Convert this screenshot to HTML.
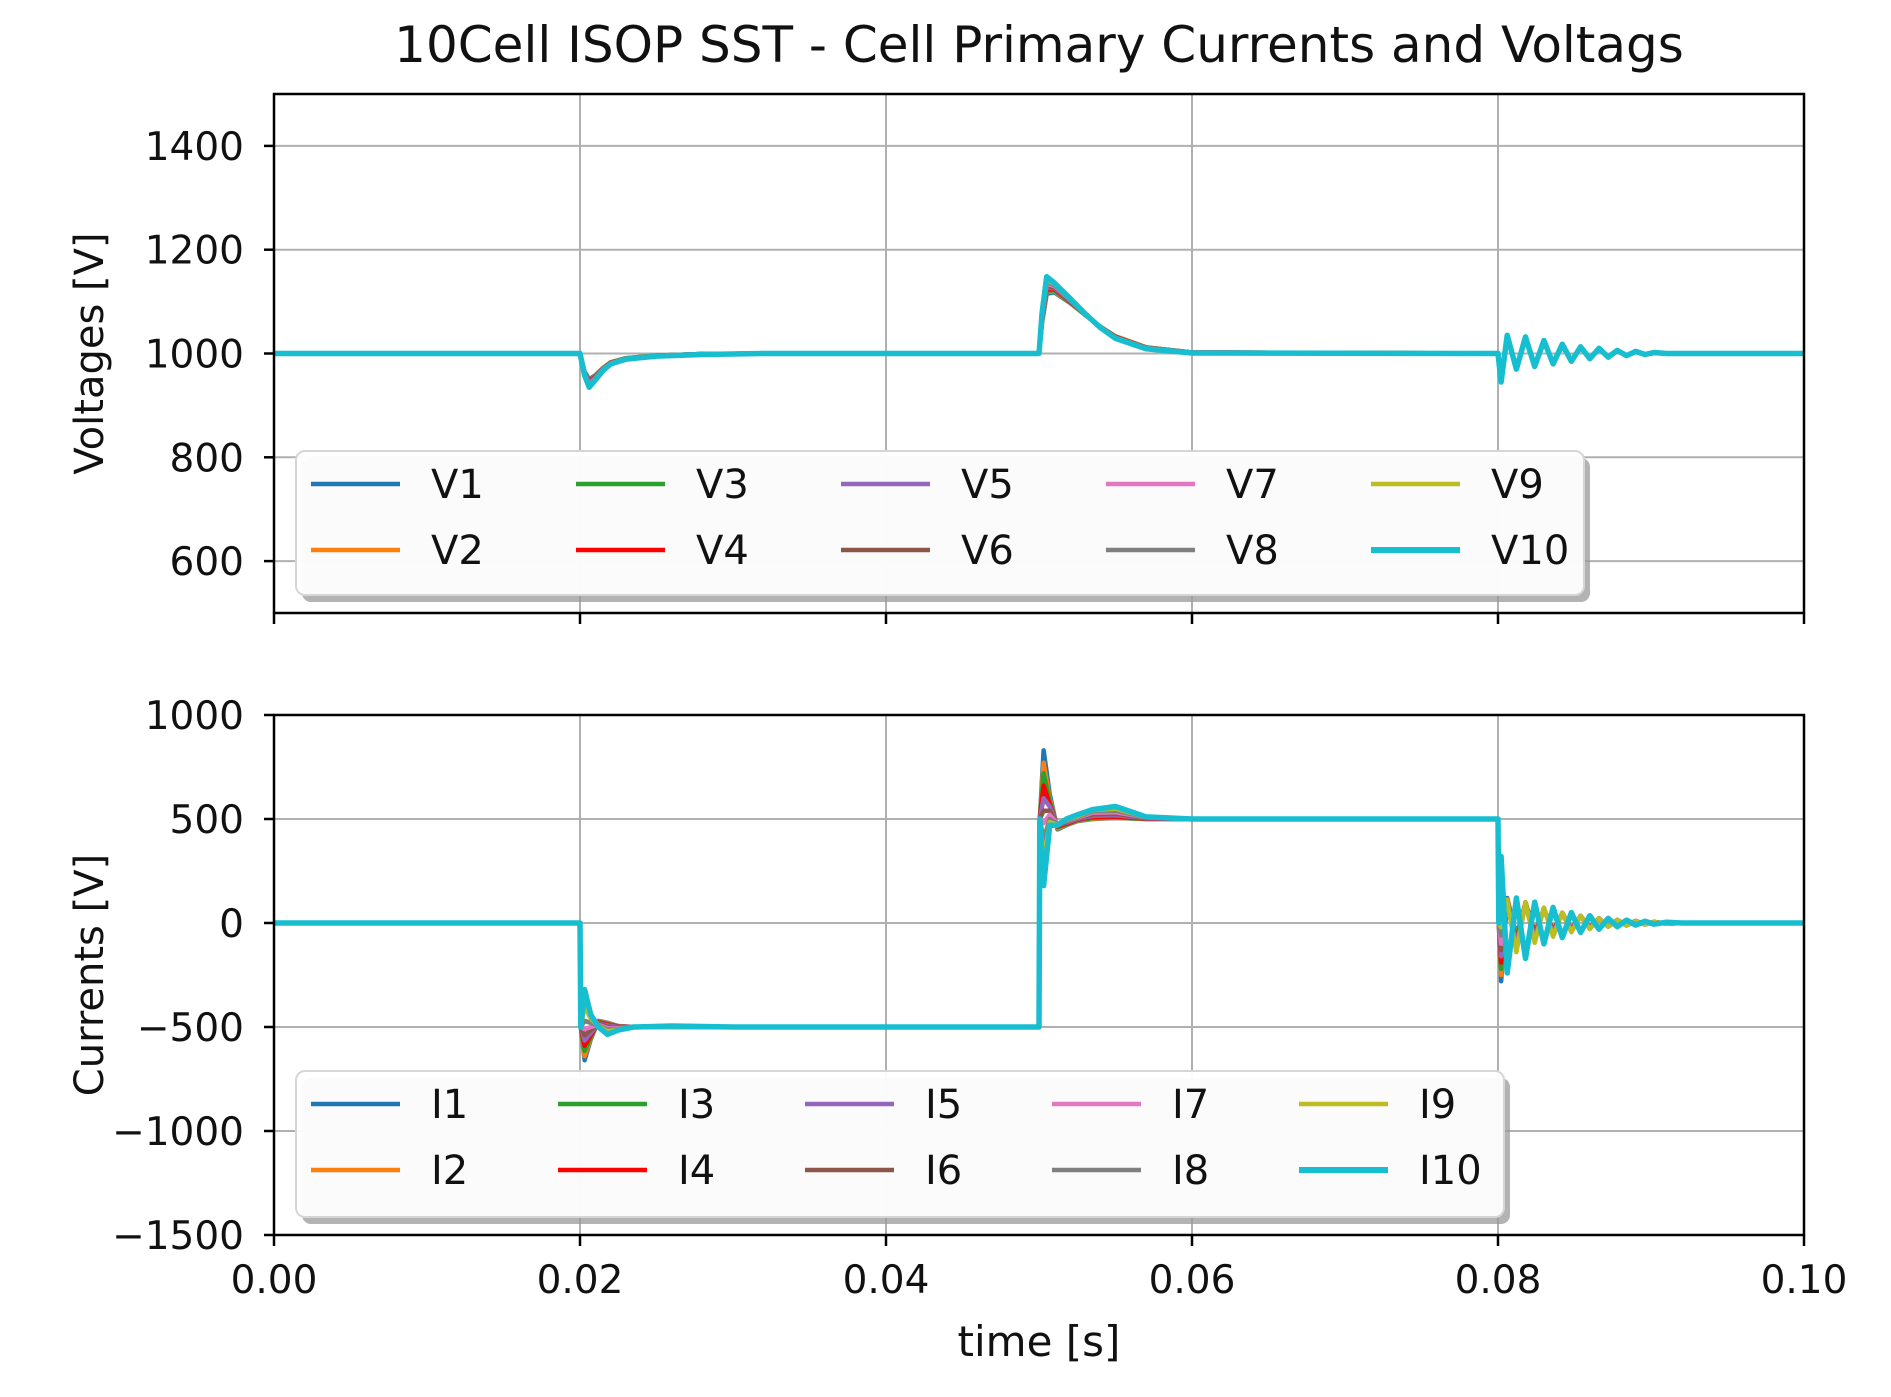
<!DOCTYPE html>
<html><head><meta charset="utf-8">
<style>
html,body{margin:0;padding:0;background:#fff;}
svg{display:block;font-family:"DejaVu Sans","Liberation Sans",sans-serif;}
</style></head>
<body>
<svg id="fig" width="1891" height="1397" viewBox="0 0 1891 1397" xmlns="http://www.w3.org/2000/svg">
<rect width="1891" height="1397" fill="#fff"/>
<text x="1039" y="62" font-size="50" text-anchor="middle" fill="#111">10Cell ISOP SST - Cell Primary Currents and Voltags</text>
<g id="top"></g>
<g id="bot"></g>
<text x="1039" y="1356" font-size="42" text-anchor="middle" fill="#111">time [s]</text>
</svg>
<script>
const colors = ['#1f77b4','#ff7f0e','#2ca02c','#ff0000','#9467bd','#8c564b','#e377c2','#7f7f7f','#bcbd22','#17becf'];
const xTicks = [0, 0.02, 0.04, 0.06, 0.08, 0.10];
const xTickLabels = ['0.00','0.02','0.04','0.06','0.08','0.10'];
const vTicks = [600, 800, 1000, 1200, 1400];
const iTicks = [-1500, -1000, -500, 0, 500, 1000];
const iTickLabels = ['\u22121500','\u22121000','\u2212500','0','500','1000'];

const vTime = [0,0.0199,0.0200,0.0203,0.0206,0.0210,0.0215,0.0220,0.0230,0.0250,0.0280,0.0320,0.0499,0.0500,0.0502,0.0505,0.0510,0.0520,0.0530,0.0540,0.0550,0.0570,0.0600,0.0799,0.0800,0.0802,0.0806,0.0812,0.0818,0.0824,0.0830,0.0836,0.0842,0.0848,0.0854,0.0860,0.0866,0.0872,0.0878,0.0884,0.0890,0.0896,0.0902,0.0910,0.1000];
const V1  = [1000,1000,1000,965,950,958,972,983,991,996,999,1000,1000,1000,1060,1115,1118,1098,1075,1052,1033,1012,1002,1000,1000,955,1030,972,1028,977,1022,982,1016,986,1012,991,1009,994,1005,996,1003,998,1001,1000,1000];
const V2  = [1000,1000,1000,964,948,957,972,983,991,996,999,1000,1000,1000,1062,1118,1120,1099,1075,1052,1033,1012,1002,1000,1000,954,1031,972,1029,977,1022,982,1016,986,1012,991,1009,994,1005,996,1003,998,1001,1000,1000];
const V3  = [1000,1000,1000,963,947,956,971,982,991,996,999,1000,1000,1000,1064,1121,1122,1100,1075,1051,1032,1011,1002,1000,1000,953,1031,971,1029,976,1023,981,1016,986,1012,991,1009,994,1005,996,1003,998,1001,1000,1000];
const V4  = [1000,1000,1000,962,945,955,970,982,990,996,999,1000,1000,1000,1066,1124,1124,1101,1076,1051,1032,1011,1002,1000,1000,952,1032,971,1030,976,1023,981,1017,985,1012,990,1009,994,1005,996,1003,998,1001,1000,1000];
const V5  = [1000,1000,1000,962,944,954,970,981,990,995,999,1000,1000,1000,1068,1127,1126,1102,1076,1051,1031,1011,1002,1000,1000,951,1032,971,1030,976,1023,981,1017,985,1012,990,1009,994,1005,996,1003,998,1001,1000,1000];
const V6  = [1000,1000,1000,961,942,953,969,981,990,995,999,1000,1000,1000,1070,1130,1128,1103,1076,1051,1031,1011,1002,1000,1000,950,1033,970,1031,975,1024,980,1017,985,1013,990,1010,993,1006,996,1004,998,1002,1000,1000];
const V7  = [1000,1000,1000,960,941,952,969,981,990,995,998,1000,1000,1000,1072,1134,1130,1104,1076,1050,1030,1010,1001,1000,1000,949,1033,970,1031,975,1024,980,1017,985,1013,990,1010,993,1006,996,1004,998,1002,1000,1000];
const V8  = [1000,1000,1000,960,939,951,968,980,990,995,998,1000,1000,1000,1074,1138,1132,1105,1076,1050,1030,1010,1001,1000,1000,948,1034,970,1031,975,1024,980,1018,985,1013,990,1010,993,1006,996,1004,998,1002,1000,1000];
const V9  = [1000,1000,1000,959,937,950,968,980,990,995,998,1000,1000,1000,1076,1142,1134,1106,1076,1050,1030,1010,1001,1000,1000,947,1034,970,1032,975,1025,980,1018,985,1013,990,1010,993,1006,996,1004,998,1002,1000,1000];
const V10 = [1000,1000,1000,958,935,949,967,980,989,995,998,1000,1000,1000,1078,1148,1136,1107,1077,1050,1029,1009,1001,1000,1000,945,1035,970,1032,975,1025,980,1018,985,1013,990,1010,993,1006,996,1004,998,1002,1000,1000];

const iTime = [0,0.0199,0.0200,0.02005,0.0203,0.0207,0.0212,0.0218,0.0225,0.0235,0.0260,0.0300,0.0499,0.0500,0.05005,0.0503,0.0507,0.0512,0.0518,0.0525,0.0535,0.0550,0.0570,0.0600,0.0799,0.0800,0.08005,0.0802,0.0806,0.0812,0.0818,0.0824,0.0830,0.0836,0.0842,0.0848,0.0854,0.0860,0.0866,0.0872,0.0878,0.0884,0.0890,0.0896,0.0902,0.0910,0.0920,0.1000];
const I1  = [0,0,0,-500,-660,-560,-470,-480,-495,-500,-500,-500,-500,-500,500,830,620,450,470,490,500,505,500,500,500,500,0,-280,120,-60,90,-40,60,-30,40,-25,30,-20,20,-15,15,-10,10,-6,6,-3,0,0];
const I2  = [0,0,0,-500,-640,-555,-472,-482,-496,-500,-500,-500,-500,-500,500,770,600,455,472,492,502,506,500,500,500,500,0,-250,115,-70,95,-45,62,-32,42,-26,30,-20,20,-15,14,-10,9,-6,5,-3,0,0];
const I3  = [0,0,0,-500,-615,-550,-475,-485,-497,-500,-500,-500,-500,-500,500,720,585,460,474,494,505,508,500,500,500,500,0,-220,110,-80,98,-50,64,-35,44,-28,31,-21,21,-15,14,-10,9,-6,5,-3,0,0];
const I4  = [0,0,0,-500,-590,-540,-478,-488,-498,-500,-500,-500,-500,-500,500,660,570,465,478,497,510,512,502,500,500,500,0,-190,110,-95,100,-58,66,-40,46,-30,32,-22,22,-16,14,-10,9,-6,5,-3,0,0];
const I5  = [0,0,0,-500,-565,-530,-482,-492,-500,-500,-500,-500,-500,-500,500,600,560,470,482,500,515,518,504,500,500,500,0,-160,105,-100,95,-66,68,-45,48,-33,34,-24,23,-17,15,-11,9,-7,5,-3,0,0];
const I6  = [0,0,0,-500,-540,-515,-486,-498,-503,-500,-500,-500,-500,-500,500,540,540,475,486,503,522,525,506,500,500,500,0,-130,100,-110,95,-74,70,-50,49,-36,35,-26,23,-17,15,-11,9,-7,5,-3,0,0];
const I7  = [0,0,0,-500,-510,-500,-490,-505,-506,-501,-500,-500,-500,-500,500,480,520,478,490,506,530,532,508,500,500,500,0,-100,95,-120,95,-82,72,-56,50,-39,35,-27,23,-18,15,-12,9,-7,5,-4,0,0];
const I8  = [0,0,0,-500,-470,-480,-494,-512,-509,-501,-500,-500,-500,-500,500,400,500,475,492,509,537,540,509,500,500,500,0,-60,100,-130,95,-88,73,-62,50,-42,35,-28,22,-18,14,-12,8,-7,5,-4,0,0];
const I9  = [0,0,0,-500,-400,-460,-497,-520,-512,-501,-500,-500,-500,-500,500,300,485,472,495,513,542,550,509,500,500,500,0,-20,110,-140,100,-95,74,-66,50,-44,35,-29,22,-18,14,-11,8,-7,5,-4,0,0];
const I10 = [0,0,0,-500,-320,-440,-500,-535,-515,-500,-495,-500,-500,-500,500,180,470,470,500,520,545,560,510,500,500,500,0,320,-240,120,-170,100,-100,75,-70,50,-45,35,-30,22,-18,14,-10,8,-6,4,0,0];

const vSeries = [V1,V2,V3,V4,V5,V6,V7,V8,V9,V10];
const iSeries = [I1,I2,I3,I4,I5,I6,I7,I8,I9,I10];
const vNames = ['V1','V2','V3','V4','V5','V6','V7','V8','V9','V10'];
const iNames = ['I1','I2','I3','I4','I5','I6','I7','I8','I9','I10'];

const NS = 'http://www.w3.org/2000/svg';
function mk(tag, attrs, parent){const e=document.createElementNS(NS,tag);for(const k in attrs)e.setAttribute(k,attrs[k]);parent.appendChild(e);return e;}

const X0=274, X1=1804;
const xScale = t => X0 + (t-0)/(0.1-0)*(X1-X0);

function panel(g, top, bottom, ymin, ymax, ticks, tickLabels, times, series, names, ylabel, showXLabels, legendBox, colStep, clipId){
  const yScale = v => bottom - (v-ymin)/(ymax-ymin)*(bottom-top);
  const defs = mk('defs',{},g);
  const cp = mk('clipPath',{id:clipId},defs);
  mk('rect',{x:X0,y:top,width:X1-X0,height:bottom-top},cp);
  xTicks.forEach(t=>{
    const l=mk('line',{x1:xScale(t),x2:xScale(t),y1:top,y2:bottom,stroke:'#b0b0b0','stroke-width':2},g);
    
    
  });
  ticks.forEach(v=>{
    const l=mk('line',{x1:X0,x2:X1,y1:yScale(v),y2:yScale(v),stroke:'#b0b0b0','stroke-width':2},g);
    
    
  });
  const sg = mk('g',{'clip-path':'url(#'+clipId+')'},g);
  series.forEach((vals,k)=>{
    let d='';
    vals.forEach((v,i)=>{d+=(i?'L':'M')+xScale(times[i]).toFixed(1)+','+yScale(v).toFixed(1);});
    const p=mk('path',{d:d,fill:'none',stroke:colors[k],'stroke-width':k===9?5.5:4.5,'stroke-linejoin':'round'},sg);
    
    
  });
  const fr=mk('rect',{x:X0,y:top,width:X1-X0,height:bottom-top,fill:'none',stroke:'#000','stroke-width':2.5},g);
  
  
  ticks.forEach((v,i)=>{
    const y=yScale(v);
    mk('line',{x1:X0-10,x2:X0,y1:y,y2:y,stroke:'#000','stroke-width':2.5},g);
    const t=mk('text',{x:X0-30,y:y+14,'font-size':39,'text-anchor':'end',fill:'#111'},g);
    t.textContent=tickLabels[i];
    
    
  });
  xTicks.forEach((tv,i)=>{
    const x=xScale(tv);
    mk('line',{x1:x,x2:x,y1:bottom,y2:bottom+11,stroke:'#000','stroke-width':2.5},g);
    if(showXLabels){
      const t=mk('text',{x:x,y:bottom+58,'font-size':39,'text-anchor':'middle',fill:'#111'},g);
      t.textContent=xTickLabels[i];
      
      
    }
  });
  const cy=(top+bottom)/2;
  const yl=mk('text',{x:0,y:0,'font-size':40,'text-anchor':'middle',fill:'#111',transform:'translate(103,'+cy+') rotate(-90)'},g);
  yl.textContent=ylabel;
  
  
  const [lx,ly,lw,lh]=legendBox;
  const lg=mk('g',{},g);
  
  
  mk('rect',{x:lx+6,y:ly+7,width:lw,height:lh,rx:9,fill:'#9a9a9a',opacity:0.75},lg);
  mk('rect',{x:lx,y:ly,width:lw,height:lh,rx:9,fill:'#fff','fill-opacity':0.95,stroke:'#d6d6d6','stroke-width':2},lg);
  names.forEach((n,k)=>{
    const col=Math.floor(k/2), row=k%2;
    const hx=lx+15+col*colStep, hy=ly+33+row*66;
    const e=mk('g',{},lg);
    
    
    mk('line',{x1:hx,x2:hx+89,y1:hy,y2:hy,stroke:colors[k],'stroke-width':k===9?6:4.5},e);
    const t=mk('text',{x:hx+120,y:hy+14,'font-size':40,fill:'#111'},e);
    t.textContent=n;
  });
}

panel(document.getElementById('top'), 94, 613, 500, 1500, vTicks, vTicks.map(String), vTime, vSeries, vNames, 'Voltages [V]', false, [296,451,1288,144], 265, 'clipTop');
panel(document.getElementById('bot'), 715, 1235, -1500, 1000, iTicks, iTickLabels, iTime, iSeries, iNames, 'Currents [V]', true, [296,1071,1208,146], 247, 'clipBot');
</script>
</body></html>
